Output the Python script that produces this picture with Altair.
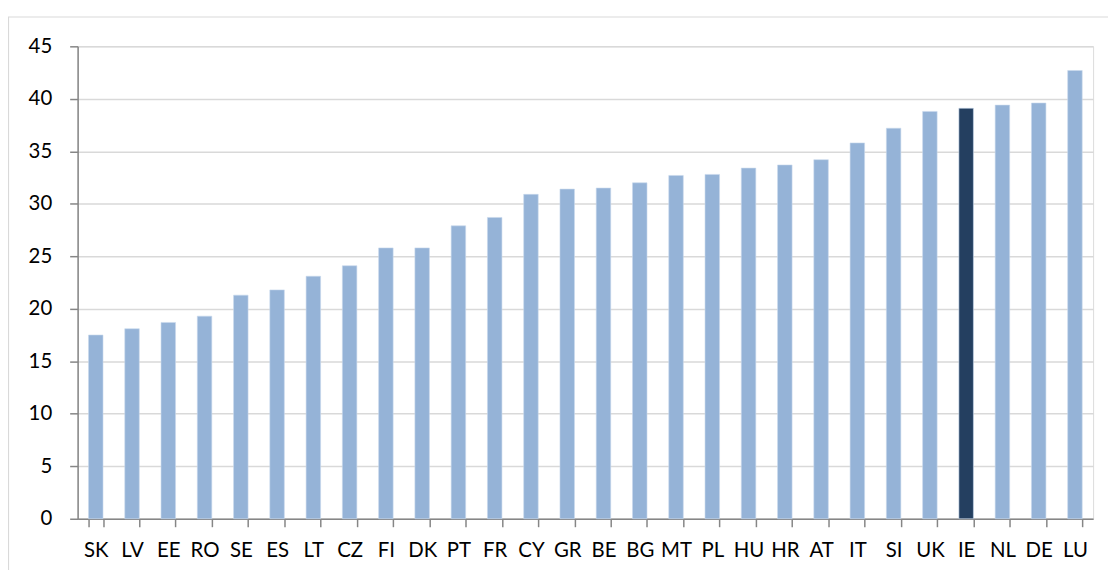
import altair as alt
import pandas as pd

countries = ["SK", "LV", "EE", "RO", "SE", "ES", "LT", "CZ", "FI", "DK", "PT", "FR", "CY", "GR",
             "BE", "BG", "MT", "PL", "HU", "HR", "AT", "IT", "SI", "UK", "IE", "NL", "DE", "LU"]
values = [17.5, 18.1, 18.7, 19.3, 21.3, 21.8, 23.1, 24.1, 25.8, 25.8, 27.9, 28.7, 30.9, 31.4,
          31.5, 32.0, 32.7, 32.8, 33.4, 33.7, 34.2, 35.8, 37.2, 38.8, 39.1, 39.4, 39.6, 42.7]
highlight = "IE"
y_ticks = [0, 5, 10, 15, 20, 25, 30, 35, 40, 45]

df = pd.DataFrame({"country": countries, "value": values})
df["group"] = ["hl" if c == highlight else "base" for c in countries]

FONT = "Lato"

bars = alt.Chart(df).mark_bar(stroke="#c9d8ec", strokeWidth=0.6).encode(
    x=alt.X("country:N", sort=countries, title=None,
            scale=alt.Scale(paddingInner=0.6, paddingOuter=0.3),
            axis=alt.Axis(labelAngle=0, tickBand="extent", tickSize=8, tickColor="#868686",
                          tickWidth=1.5, domainColor="#868686", domainWidth=1.5,
                          labelFont=FONT, labelFontSize=20.5, labelColor="#000000",
                          labelPadding=14, grid=False)),
    y=alt.Y("value:Q", title=None,
            scale=alt.Scale(domain=[0, 45], nice=False),
            axis=alt.Axis(values=y_ticks, tickSize=8, tickColor="#868686", tickWidth=1.5,
                          domainColor="#868686", domainWidth=1.5,
                          gridColor="#d9d9d9", gridWidth=1.5,
                          labelFont=FONT, labelFontSize=20.5, labelColor="#000000",
                          labelPadding=18)),
    color=alt.Color("group:N", legend=None,
                    scale=alt.Scale(domain=["base", "hl"], range=["#95b3d7", "#243f60"])),
)

border = alt.Chart(df).mark_rect(fill=None, stroke="#d9d9d9", strokeWidth=1.2).encode(
    x=alt.value(-69.5), x2=alt.value(1100), y=alt.value(-29.5), y2=alt.value(700)
).transform_filter(alt.datum.country == highlight)

chart = alt.layer(border, bars).properties(
    width=1021, height=475,
    autosize=alt.AutoSizeParams(type="none"),
    padding={"left": 70, "top": 37, "right": 15, "bottom": 50},
).configure_view(stroke=None).configure(background="#ffffff")

chart.save("out.html", embed_options={"renderer": "svg", "actions": False})
